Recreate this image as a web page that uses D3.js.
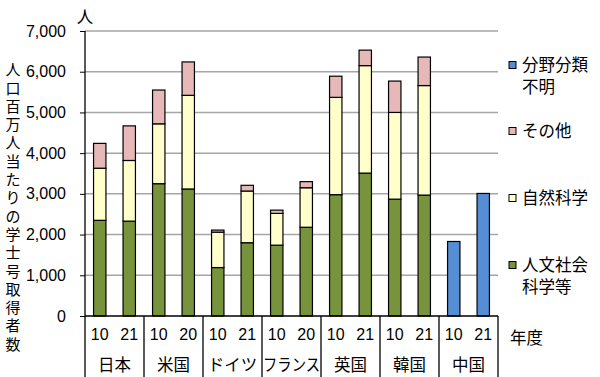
<!DOCTYPE html>
<html>
<head>
<meta charset="utf-8">
<script src="https://cdn.jsdelivr.net/npm/d3@7"></script>
<style>
  body { margin: 0; background: #fff; }
  svg { display: block; font-family: "Liberation Sans", Arial, "Noto Sans CJK JP", sans-serif; }
</style>
</head>
<body>
<div id="chart"></div>
<script>
// Countries and survey years (each country has two bars)
var countries = ["日本", "米国", "ドイツ", "フランス", "英国", "韓国", "中国"];
var years = [["10", "21"], ["10", "20"], ["10", "21"], ["10", "20"], ["10", "21"], ["10", "21"], ["10", "21"]];

// Series values, one per bar, in the order above
var jinbun  = [2350, 2330, 3250, 3120, 1190, 1800, 1740, 2180, 2980, 3510, 2870, 2970, 0, 0];
var shizen  = [1280, 1490, 1470, 2300,  870, 1270,  780,  970, 2390, 2640, 2130, 2690, 0, 0];
var sonota  = [ 610,  850,  830,  820,   50,  140,   80,  150,  520,  380,  770,  700, 0, 0];
var fumei   = [   0,    0,    0,    0,    0,    0,    0,    0,    0,    0,    0,    0, 1830, 3010];

var yTicks = [0, 1000, 2000, 3000, 4000, 5000, 6000, 7000];

var seriesKeys = ["jinbun", "shizen", "sonota", "fumei"];
var colors = { jinbun: "#77933C", shizen: "#FFFFCC", sonota: "#E6B9B8", fumei: "#558ED5" };

// legend, top to bottom
var legend = [
    { key: "fumei", lines: ["分野分類", "不明"] },
    { key: "sonota", lines: ["その他"] },
    { key: "shizen", lines: ["自然科学"] },
    { key: "jinbun", lines: ["人文社会", "科学等"] }
];

// build rows for the stack
var rows = [];
countries.forEach(function(c, i) {
    years[i].forEach(function(yr, j) {
        var k = i * 2 + j;
        rows.push({ country: c, slot: j, year: yr,
            jinbun: jinbun[k], shizen: shizen[k], sonota: sonota[k], fumei: fumei[k] });
    });
});

var width = 600, height = 377;
var svg = d3.select("#chart").append("svg")
    .attr("width", width)
    .attr("height", height);

var plotL = 85, plotR = 498, plotT = 31, plotB = 316;

var x0 = d3.scaleBand().domain(countries).range([plotL, plotR]).padding(0);
var x1 = d3.scaleBand().domain([0, 1]).range([0, x0.bandwidth()])
    .paddingInner(0.58).paddingOuter(0.29);
var y = d3.scaleLinear().domain([0, 7000]).range([plotB, plotT]);

// gridlines
svg.append("g").selectAll("line")
    .data(yTicks.filter(function(d) { return d > 0; }))
    .enter().append("line")
    .attr("x1", plotL).attr("x2", plotR)
    .attr("y1", function(d) { return y(d); })
    .attr("y2", function(d) { return y(d); })
    .attr("stroke", "#A6A6A6")
    .attr("stroke-width", 1.5);

// y axis
var yAxis = d3.axisLeft(y).tickValues(yTicks).tickSize(5).tickPadding(14)
    .tickFormat(d3.format(","));
var ya = svg.append("g").attr("transform", "translate(" + plotL + ",0)").call(yAxis);
ya.select(".domain").remove();
ya.selectAll("line").attr("stroke", "#000");
ya.selectAll("text").attr("font-size", "16px").attr("fill", "#000");

// stacked bars
var stack = d3.stack().keys(seriesKeys);
var stacked = stack(rows);

svg.append("g").selectAll("g")
    .data(stacked)
    .enter().append("g")
    .attr("fill", function(d) { return colors[d.key]; })
    .selectAll("rect")
    .data(function(d) { return d.filter(function(p) { return p[1] - p[0] > 0; }); })
    .enter().append("rect")
    .attr("x", function(d) { return x0(d.data.country) + x1(d.data.slot); })
    .attr("width", x1.bandwidth())
    .attr("y", function(d) { return y(d[1]); })
    .attr("height", function(d) { return y(d[0]) - y(d[1]); })
    .attr("stroke", "#000")
    .attr("stroke-width", 1.2);

// axis lines and category table
svg.append("line")
    .attr("x1", plotL).attr("x2", plotL).attr("y1", plotT).attr("y2", height)
    .attr("stroke", "#000").attr("stroke-width", 1.3);
svg.append("line")
    .attr("x1", plotL).attr("x2", plotR).attr("y1", plotB).attr("y2", plotB)
    .attr("stroke", "#000").attr("stroke-width", 1.3);
svg.append("g").selectAll("line")
    .data(countries)
    .enter().append("line")
    .attr("x1", function(d) { return x0(d) + x0.bandwidth(); })
    .attr("x2", function(d) { return x0(d) + x0.bandwidth(); })
    .attr("y1", plotB).attr("y2", height)
    .attr("stroke", "#000").attr("stroke-width", 1.3);

// year labels
svg.append("g").selectAll("text")
    .data(rows)
    .enter().append("text")
    .attr("x", function(d) { return x0(d.country) + x1(d.slot) + x1.bandwidth() / 2; })
    .attr("y", 334)
    .attr("dy", "0.35em")
    .attr("text-anchor", "middle")
    .attr("font-size", "16px")
    .text(function(d) { return d.year; });

// country labels
svg.append("g").selectAll("text")
    .data(countries)
    .enter().append("text")
    .attr("x", function(d) { return x0(d) + x0.bandwidth() / 2; })
    .attr("y", 365)
    .attr("dy", "0.35em")
    .attr("text-anchor", "middle")
    .attr("font-size", "16.5px")
    .attr("textLength", function(d) { return d.length > 3 ? 57 : null; })
    .attr("lengthAdjust", "spacingAndGlyphs")
    .text(function(d) { return d; });

// unit and year titles
svg.append("text").attr("x", plotL).attr("y", 17).attr("dy", "0.35em")
    .attr("text-anchor", "middle").attr("font-size", "16.5px").text("人");
svg.append("text").attr("x", 510).attr("y", 338).attr("dy", "0.35em")
    .attr("font-size", "16.5px").text("年度");

// vertical y title
var yTitle = "人口百万人当たりの学士号取得者数".split("");
svg.append("g").selectAll("text")
    .data(yTitle)
    .enter().append("text")
    .attr("x", 13)
    .attr("y", function(d, i) { return 70 + i * 18.3; })
    .attr("dy", "0.35em")
    .attr("text-anchor", "middle")
    .attr("font-size", "15px")
    .text(function(d) { return d; });

// legend
var legendY = [65, 131, 198, 265];
var lg = svg.append("g").selectAll("g")
    .data(legend)
    .enter().append("g")
    .attr("transform", function(d, i) { return "translate(509," + legendY[i] + ")"; });
lg.append("rect")
    .attr("x", 0).attr("y", -3.5).attr("width", 7).attr("height", 7)
    .attr("fill", function(d) { return colors[d.key]; })
    .attr("stroke", "#000").attr("stroke-width", 1);
lg.each(function(d) {
    var g = d3.select(this);
    d.lines.forEach(function(t, i) {
        g.append("text")
            .attr("x", 13)
            .attr("y", i * 22.5)
            .attr("dy", "0.35em")
            .attr("font-size", "16.5px")
            .text(t);
    });
});
</script>
</body>
</html>
